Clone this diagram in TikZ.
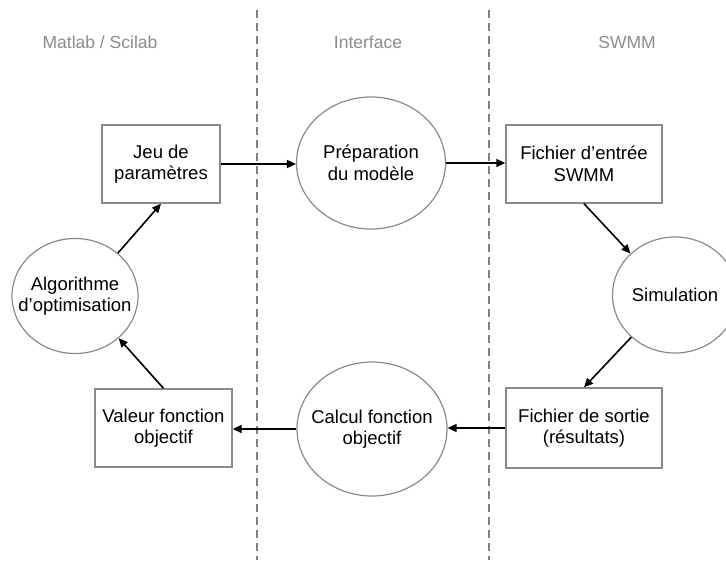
\documentclass[tikz,border=0pt]{standalone}
\usepackage{fontspec}
\setmainfont{Liberation Sans}
\usetikzlibrary{shapes.geometric,arrows.meta}
\definecolor{bordergray}{HTML}{8A8A8A}
\definecolor{dashgray}{HTML}{7F7F7F}
\definecolor{headgray}{HTML}{8C8C8C}
\tikzset{
  boxnode/.style={draw=bordergray, line width=1.4pt, rectangle, inner sep=2pt,
    align=center, font=\fontsize{18.5}{21.5}\selectfont},
  ellnode/.style={draw=bordergray, line width=1.2pt, ellipse, inner sep=0pt},
  elltext/.style={align=center, font=\fontsize{18.5}{21.5}\selectfont},
  headnode/.style={text=headgray, font=\fontsize{17.5}{20}\selectfont},
  sepline/.style={draw=dashgray, line width=1.8pt, dash pattern=on 8pt off 5pt},
  arr/.style={draw=black, line width=1.6pt, -{Triangle[length=9pt,width=8pt]}}
}
\begin{document}
\begin{tikzpicture}[x=1pt,y=-1pt]
\useasboundingbox (0,0) rectangle (726,560);
% separators
\coordinate (s1top) at (257,10);
\coordinate (s1bot) at (257,560);
\coordinate (s2top) at (489,10);
\coordinate (s2bot) at (489,560);
\draw[sepline] (s1top) -- (s1bot);
\draw[sepline] (s2top) -- (s2bot);
% headers
\node[headnode] (hmat) at (100,42) {Matlab / Scilab};
\node[headnode] (hint) at (368,42) {Interface};
\node[headnode] (hswmm) at (627,42) {SWMM};
% nodes
\node[boxnode, minimum width=118pt, minimum height=78pt] (jeu) at (161,164) {Jeu de\\paramètres};
\node[ellnode, minimum width=149pt, minimum height=132pt,
  label={[elltext]center:Préparation\\du modèle}] (prep) at (371,163) {};
\node[boxnode, minimum width=156pt, minimum height=78pt] (entree) at (584,164) {Fichier d’entrée\\SWMM};
\node[ellnode, minimum width=125pt, minimum height=116pt,
  label={[elltext]center:Simulation}] (sim) at (675,295) {};
\node[boxnode, minimum width=156pt, minimum height=80pt] (sortie) at (584,428) {Fichier de sortie\\(résultats)};
\node[ellnode, minimum width=150pt, minimum height=134pt,
  label={[elltext]center:Calcul fonction\\objectif}] (calc) at (372,429) {};
\node[boxnode, minimum width=137pt, minimum height=78pt] (valeur) at (163.5,428) {Valeur fonction\\objectif};
\node[ellnode, minimum width=126pt, minimum height=115pt,
  label={[elltext]center:Algorithme\\d’optimisation}] (algo) at (75,296) {};
% connectors
\draw[arr] (jeu.east) -- (jeu.east -| prep.west);
\draw[arr] (prep.east) -- (prep.east -| entree.west);
\draw[arr] (entree.south) -- (sim.137);
\draw[arr] (sim.-136) -- (sortie.north);
\draw[arr] (sortie.west) -- (sortie.west -| calc.east);
\draw[arr] (calc.west) -- (calc.west -| valeur.east);
\draw[arr] (valeur.north) -- (algo.-44);
\draw[arr] (algo.45) -- (jeu.south);
\end{tikzpicture}
\end{document}
